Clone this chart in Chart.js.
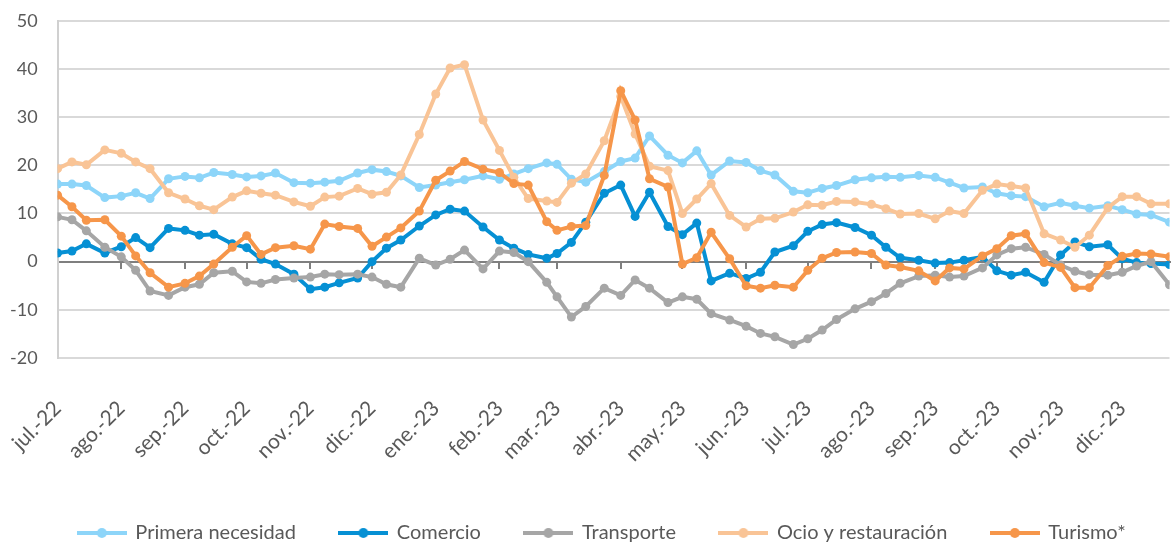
<!DOCTYPE html>
<html lang="es">
<head>
<meta charset="utf-8">
<script src="https://cdn.jsdelivr.net/npm/chart.js@4.4.1/dist/chart.umd.min.js"></script>
<style>
  html, body { margin: 0; padding: 0; background: #fff; }
  #wrap { width: 1174px; height: 545px; }
</style>
</head>
<body>
<div id="wrap"><canvas id="chart"></canvas></div>
<script>
// --- DATA (weekly readings, four per month) ---
const monthLabels = ['jul.-22', 'ago.-22', 'sep.-22', 'oct.-22', 'nov.-22', 'dic.-22',
    'ene.-23', 'feb.-23', 'mar.-23', 'abr.-23', 'may.-23', 'jun.-23',
    'jul.-23', 'ago.-23', 'sep.-23', 'oct.-23', 'nov.-23', 'dic.-23'];
const obsDays = [1, 8, 15, 24];
const yTicks = [-20, -10, 0, 10, 20, 30, 40, 50];

const primera = [
    16.1, 16.1, 15.8, 13.3,  13.6, 14.3, 13.1, 17.2,  17.7, 17.4, 18.5, 18.1,
    17.6, 17.8, 18.4, 16.4,  16.3, 16.5, 16.8, 18.4,  19.1, 18.7, 17.8, 15.4,
    15.9, 16.5, 17.0, 17.8,  17.1, 18.2, 19.3, 20.5,  20.2, 17.1, 16.5, 18.7,
    20.8, 21.5, 26.1, 22.1,  20.5, 23.0, 18.0, 20.9,  20.6, 18.9, 18.0, 14.6,
    14.3, 15.2, 15.8, 17.0,  17.4, 17.6, 17.5, 17.9,  17.5, 16.4, 15.3, 15.5,
    14.2, 13.7, 13.5, 11.4,  12.2, 11.6, 11.1, 11.6,  10.8, 9.9, 9.7, 8.2];
const comercio = [
    1.8, 2.2, 3.7, 1.8,  3.1, 5.0, 2.9, 6.9,  6.5, 5.5, 5.7, 3.7,
    2.9, 0.5, -0.5, -2.6,  -5.7, -5.3, -4.4, -3.4,  0.0, 2.8, 4.5, 7.4,
    9.7, 10.9, 10.5, 7.2,  4.5, 2.8, 1.5, 0.7,  1.7, 4.0, 8.2, 14.2,
    15.9, 9.4, 14.4, 7.3,  5.6, 8.0, -4.0, -2.4,  -3.5, -2.2, 2.0, 3.3,
    6.3, 7.7, 8.1, 7.1,  5.5, 3.0, 0.8, 0.3,  -0.3, -0.2, 0.3, 1.0,
    -1.9, -2.8, -2.2, -4.3,  1.4, 4.1, 3.1, 3.5,  0.6, -0.2, -0.4, -0.6];
const transporte = [
    9.3, 8.7, 6.4, 3.0,  1.0, -1.8, -6.1, -7.0,  -5.3, -4.7, -2.3, -2.0,
    -4.2, -4.5, -3.7, -3.4,  -3.2, -2.6, -2.7, -2.6,  -3.2, -4.7, -5.3, 0.7,
    -0.7, 0.5, 2.4, -1.5,  2.2, 1.9, 0.0, -4.3,  -7.3, -11.5, -9.3, -5.5,
    -7.0, -3.8, -5.5, -8.5,  -7.3, -7.8, -10.8, -12.1,  -13.4, -14.9, -15.6, -17.2,
    -16.0, -14.2, -12.0, -9.8,  -8.3, -6.6, -4.5, -3.0,  -2.8, -3.2, -3.0, -1.3,
    1.4, 2.7, 3.0, 1.5,  -0.7, -2.0, -2.7, -2.8,  -2.2, -0.9, 0.0, -4.8];
const ocio = [
    19.3, 20.7, 20.1, 23.2,  22.5, 20.7, 19.3, 14.3,  13.0, 11.6, 10.8, 13.4,
    14.7, 14.2, 13.8, 12.4,  11.5, 13.4, 13.6, 15.2,  14.0, 14.4, 18.0, 26.4,
    34.8, 40.2, 40.9, 29.4,  23.1, 17.5, 13.1, 12.6,  12.3, 16.3, 18.2, 25.1,
    34.3, 26.5, 19.8, 18.9,  10.0, 13.0, 16.2, 9.6,  7.2, 8.9, 9.0, 10.3,
    11.8, 11.7, 12.5, 12.4,  11.9, 11.0, 9.9, 10.0,  8.9, 10.5, 10.0, 14.8,
    16.1, 15.7, 15.3, 5.8,  4.5, 3.0, 5.5, 11.2,  13.5, 13.5, 12.0, 12.0];
const turismo = [
    13.8, 11.4, 8.6, 8.7,  5.3, 1.2, -2.3, -5.3,  -4.5, -3.0, -0.5, 3.0,
    5.4, 1.5, 2.9, 3.3,  2.6, 7.8, 7.3, 6.9,  3.2, 5.1, 7.0, 10.5,
    16.9, 18.8, 20.8, 19.2,  18.5, 16.2, 15.9, 8.3,  6.5, 7.3, 7.5, 17.9,
    35.5, 29.4, 17.2, 15.5,  -0.5, 0.8, 6.1, 0.6,  -5.0, -5.5, -4.9, -5.3,
    -1.8, 0.7, 1.9, 2.0,  1.7, -0.7, -1.1, -1.9,  -4.0, -1.3, -1.5, 1.2,
    2.7, 5.4, 5.8, -0.2,  -1.2, -5.4, -5.4, -0.8,  1.1, 1.7, 1.6, 1.0];

const seriesNames = ['Primera necesidad', 'Comercio', 'Transporte', 'Ocio y restauración', 'Turismo*'];
const seriesValues = [primera, comercio, transporte, ocio, turismo];
const seriesColors = ['#8dd5f9', '#0690d4', '#a6a6a6', '#f9c496', '#f6964a'];

// --- DATES -> day offsets for a date axis ---
const base = Date.UTC(2022, 6, 1);
const dayOf = (mi, d) => (Date.UTC(2022, 6 + mi, d) - base) / 864e5;
const tickDays = monthLabels.map((_, i) => dayOf(i, 1));
const xDays = monthLabels.flatMap((_, i) => obsDays.map(d => dayOf(i, d)));
const xMax = xDays[xDays.length - 1];

const monthTicks = scale => { scale.ticks = tickDays.map(v => ({ value: v })); };

// legend swatch: line with a dot, like the office chart
function swatch(color) {
    const c = document.createElement('canvas');
    c.width = 50; c.height = 12;
    const g = c.getContext('2d');
    g.strokeStyle = color; g.lineWidth = 4;
    g.beginPath(); g.moveTo(0, 6); g.lineTo(50, 6); g.stroke();
    g.fillStyle = color;
    g.beginPath(); g.arc(25, 6, 5, 0, Math.PI * 2); g.fill();
    return c;
}

// the office legend sits a little right of centre
const legendNudge = {
    id: 'legendNudge',
    afterLayout(chart) { chart.legend.left += 30; }
};

Chart.defaults.font.family = 'Lato, "Open Sans", sans-serif';
Chart.defaults.color = '#595959';

new Chart(document.getElementById('chart'), {
    type: 'line',
    data: {
        datasets: seriesNames.map((name, i) => ({
            label: name,
            data: seriesValues[i].map((v, j) => ({ x: xDays[j], y: v })),
            borderColor: seriesColors[i],
            backgroundColor: seriesColors[i],
            pointBackgroundColor: seriesColors[i],
            pointBorderColor: seriesColors[i],
            borderWidth: 4,
            pointRadius: 4.5,
            pointBorderWidth: 0,
            pointHoverRadius: 4.5,
            tension: 0,
            order: seriesNames.length - i,   // later series on top
            xAxisID: 'x',
            yAxisID: 'y'
        }))
    },
    plugins: [legendNudge],
    options: {
        responsive: true,
        maintainAspectRatio: false,
        animation: false,
        layout: { padding: { left: 0, top: 0, right: 0, bottom: -8 } },
        plugins: {
            tooltip: { enabled: false },
            legend: {
                position: 'bottom',
                labels: {
                    usePointStyle: true,
                    pointStyleWidth: 47,
                    padding: 44,
                    color: '#595959',
                    font: { size: 20 },
                    sort: (a, b) => a.datasetIndex - b.datasetIndex,
                    generateLabels: chart => Chart.defaults.plugins.legend.labels.generateLabels(chart)
                        .map(item => ({ ...item, pointStyle: swatch(seriesColors[item.datasetIndex]) }))
                }
            }
        },
        scales: {
            // zero line with month tick marks
            x: {
                type: 'linear', axis: 'x',
                position: { y: 0 },
                min: 0, max: xMax,
                afterBuildTicks: monthTicks,
                ticks: { display: false },
                grid: { drawOnChartArea: false, drawTicks: true, tickLength: 6, color: '#7f7f7f', lineWidth: 2 },
                border: { display: true, color: '#7f7f7f', width: 2 }
            },
            // month labels along the bottom
            x2: {
                type: 'linear', axis: 'x',
                position: 'bottom',
                min: 0, max: xMax,
                afterBuildTicks: monthTicks,
                afterFit: scale => {
                    scale.paddingLeft = 0;
                    scale.paddingRight = 0;
                    scale.height = 121;
                },
                ticks: {
                    autoSkip: false, maxRotation: 45, minRotation: 45,
                    color: '#595959', font: { size: 21 }, padding: 30,
                    callback: (v, i) => monthLabels[i]
                },
                grid: { display: false },
                border: { display: false }
            },
            y: {
                min: yTicks[0], max: yTicks[yTicks.length - 1],
                afterBuildTicks: scale => { scale.ticks = yTicks.map(v => ({ value: v })); },
                ticks: { color: '#595959', font: { size: 18 }, padding: 10 },
                grid: {
                    color: ctx => ctx.tick && ctx.tick.value === 0 ? 'rgba(0,0,0,0)' : '#d9d9d9',
                    lineWidth: 2, drawTicks: true, tickLength: 10, tickColor: 'rgba(0,0,0,0)'
                },
                border: { color: '#d0d0d0', width: 2 }
            }
        }
    }
});
</script>
</body>
</html>
